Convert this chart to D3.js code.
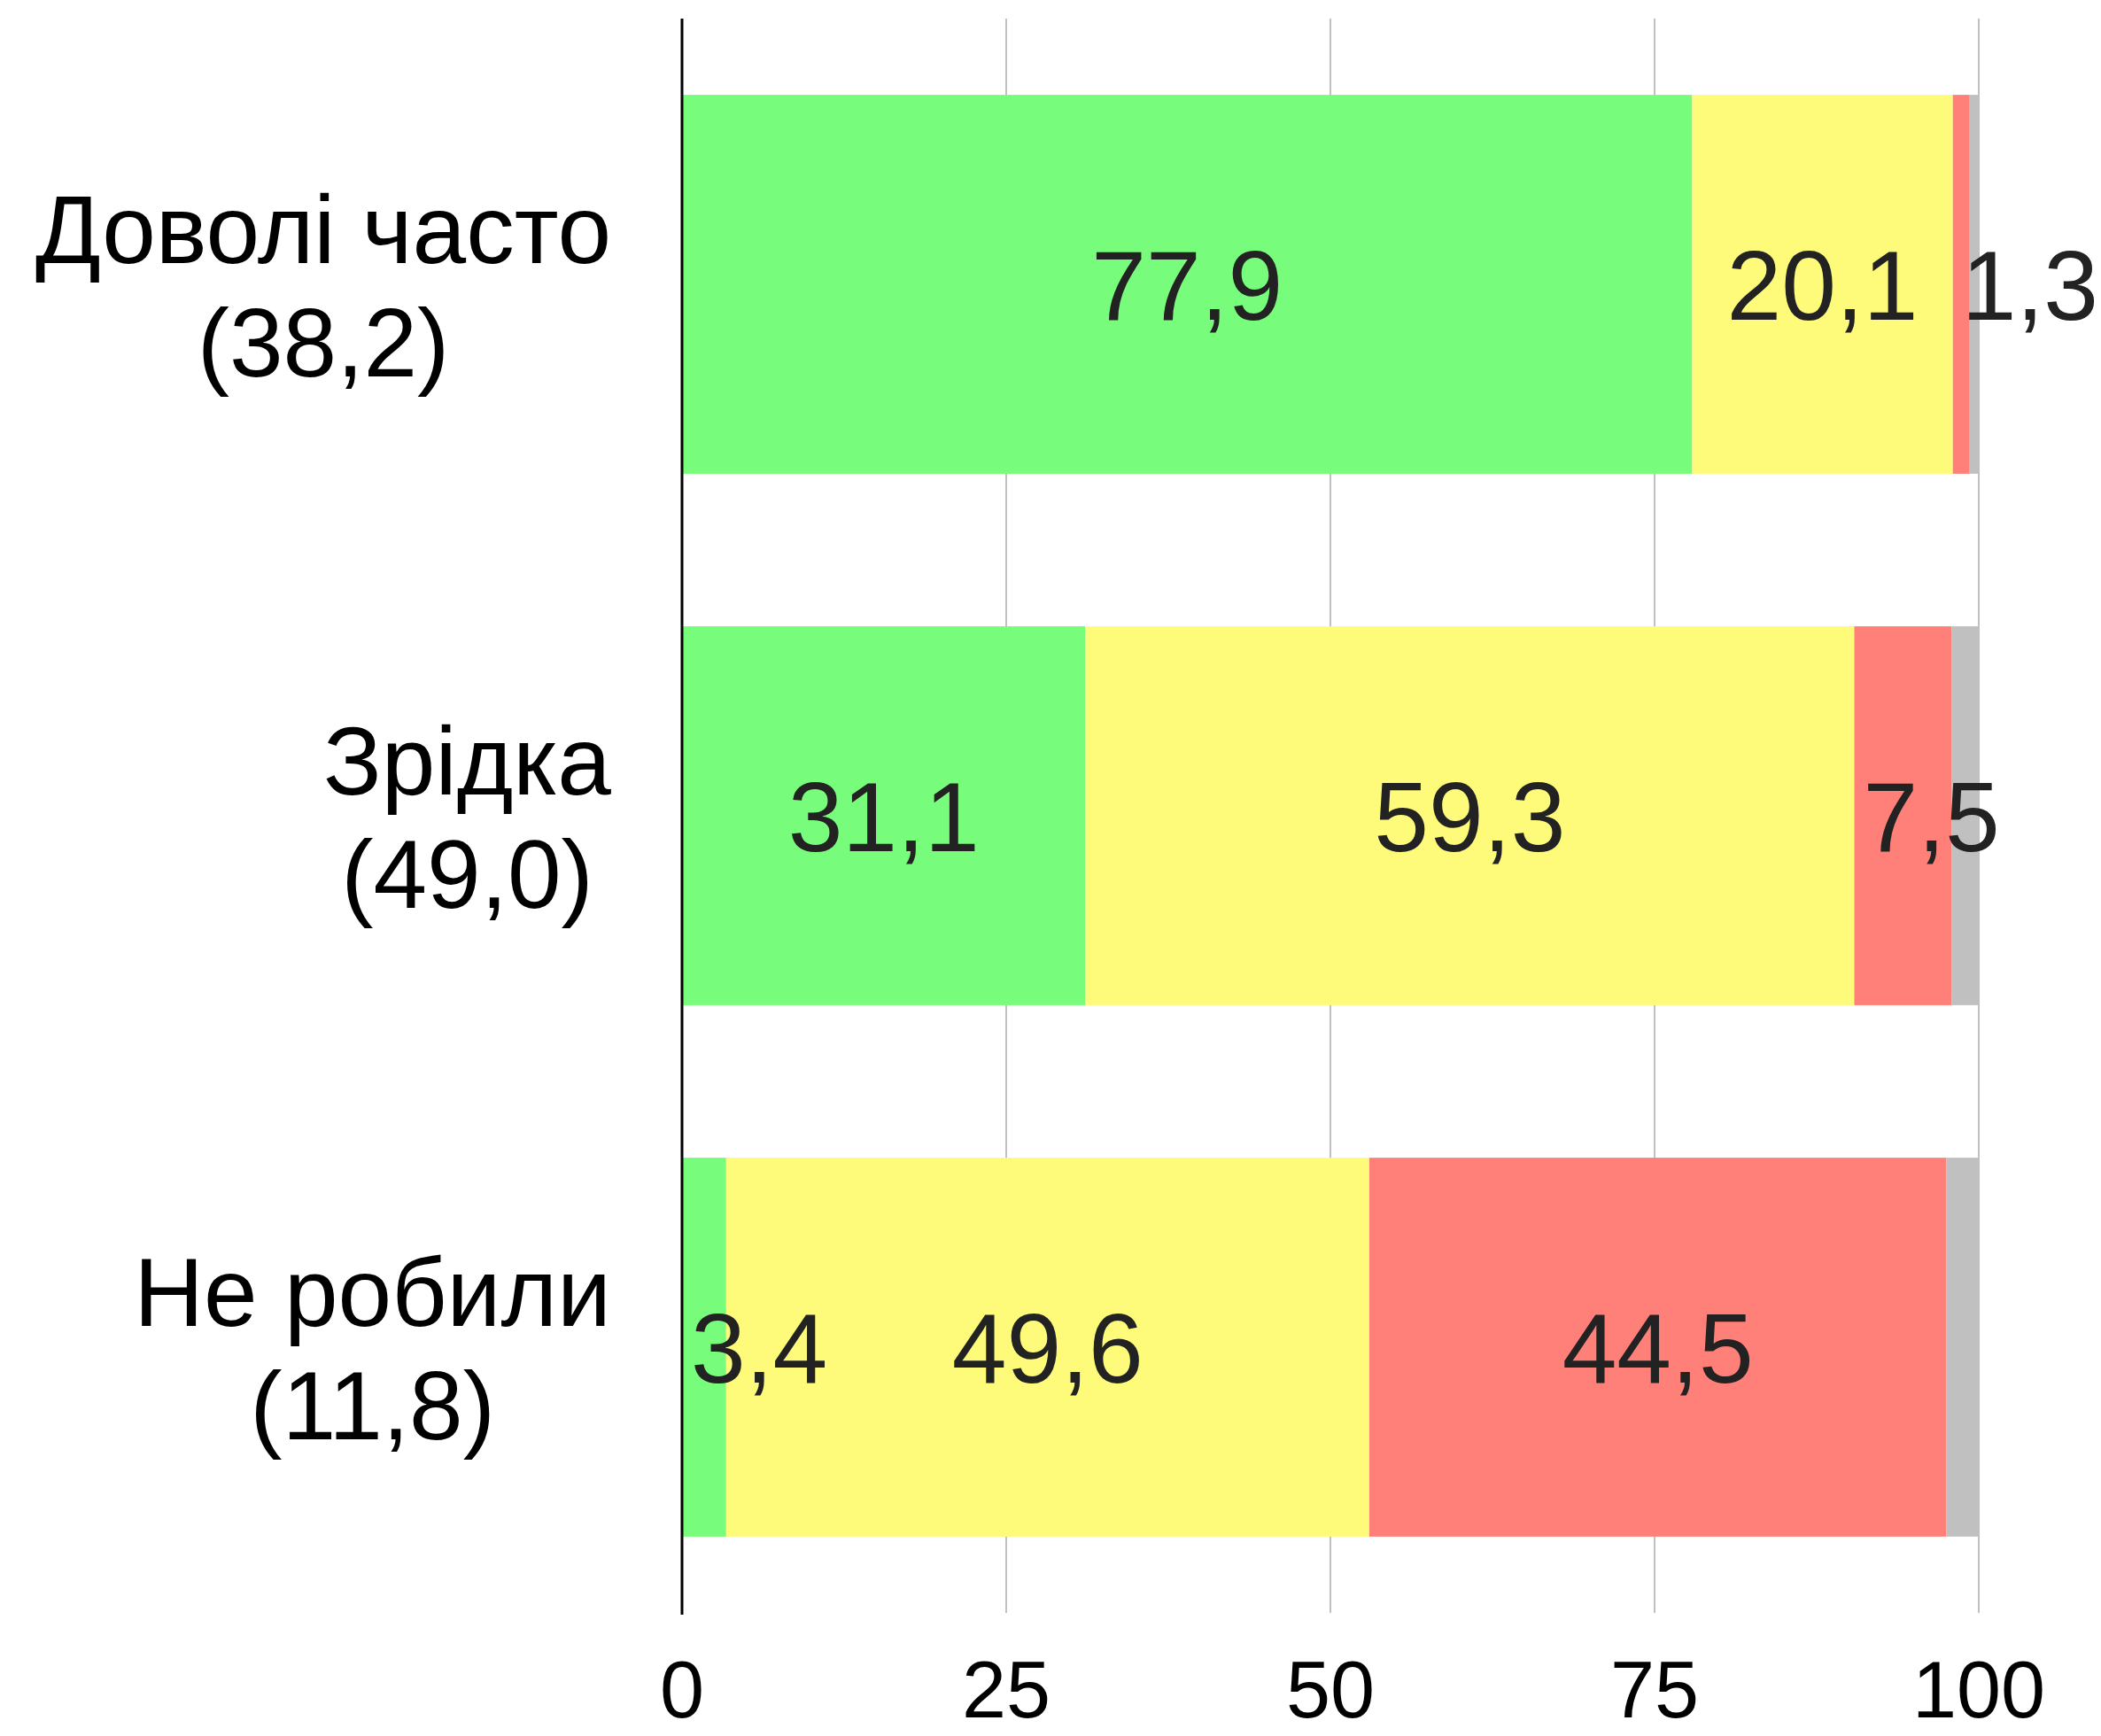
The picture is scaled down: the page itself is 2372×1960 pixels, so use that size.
<html>
<head>
<meta charset="utf-8">
<title>stacked bars</title>
<script src="https://cdnjs.cloudflare.com/ajax/libs/d3/7.8.5/d3.min.js"></script>
<style>
  body { margin:0; padding:0; background:#fff; }
  svg text { font-family: "Liberation Sans", Arial, Helvetica, sans-serif; }
</style>
</head>
<body>
<svg id="chart" width="2372" height="1960"></svg>
<script>
  // data
  var categories = ["Доволі часто", "Зрідка", "Не робили"];
  var shares = ["(38,2)", "(49,0)", "(11,8)"];
  var seriesNames = ["often", "rarely", "never", "na"];
  var often  = [77.9, 31.1, 3.4];
  var rarely = [20.1, 59.3, 49.6];
  var never  = [1.3, 7.5, 44.5];
  var na     = [0.7, 2.1, 2.5];
  var colors = ["#78fc7b", "#fefb7a", "#ff7f79", "#c0c0c0"];
  var ticks = [0, 25, 50, 75, 100];

  var rows = categories.map(function(c, i) {
    return {cat: c, share: shares[i], often: often[i], rarely: rarely[i], never: never[i], na: na[i]};
  });

  var svg = d3.select('#chart');
  var x0 = 770, x1 = 2234, yTop = 21, yBot = 1821;

  var x = d3.scaleLinear().domain([0, 100]).range([x0, x1]);
  var y = d3.scaleBand().domain(categories).range([yTop, yBot])
    .paddingInner(0.287).paddingOuter(0.1435);

  // grid
  svg.append('g').selectAll('line.grid')
    .data(ticks.slice(1))
    .enter().append('line')
    .attr('class', 'grid')
    .attr('x1', function(d) { return x(d); })
    .attr('x2', function(d) { return x(d); })
    .attr('y1', yTop).attr('y2', yBot)
    .attr('stroke', '#c0c0c0').attr('stroke-width', 2);

  var stack = d3.stack().keys(seriesNames);
  var layers = stack(rows);

  var g = svg.append('g');
  layers.forEach(function(layer, li) {
    g.selectAll('rect.s' + li)
      .data(layer)
      .enter().append('rect')
      .attr('class', 's' + li)
      .attr('x', function(d) { return x(d[0]); })
      .attr('width', function(d) { return x(d[1]) - x(d[0]); })
      .attr('y', function(d) { return y(d.data.cat); })
      .attr('height', y.bandwidth())
      .attr('fill', colors[li]);
  });

  // value labels (not for the grey remainder)
  var fmt = function(v) { return d3.format('.1f')(v).replace('.', ','); };
  layers.slice(0, 3).forEach(function(layer, li) {
    layer.forEach(function(d) {
      var w = x(d[1]) - x(d[0]);
      var t = svg.append('text')
        .attr('y', y(d.data.cat) + y.bandwidth() / 2)
        .attr('dy', '0.36em')
        .attr('font-size', 111)
        .attr('fill', '#222')
        .text(fmt(d[1] - d[0]));
      var tw = t.node().getComputedTextLength();
      if (tw > w) {
        t.attr('x', x(d[0]) + 10).attr('text-anchor', 'start');
      } else {
        t.attr('x', (x(d[0]) + x(d[1])) / 2).attr('text-anchor', 'middle');
      }
    });
  });

  // axis line at zero
  svg.append('line')
    .attr('x1', x(0)).attr('x2', x(0))
    .attr('y1', yTop).attr('y2', yBot + 2)
    .attr('stroke', '#000').attr('stroke-width', 3);

  // tick labels
  svg.append('g').selectAll('text.tick')
    .data(ticks)
    .enter().append('text')
    .attr('class', 'tick')
    .attr('x', function(d) { return x(d); })
    .attr('y', 1939)
    .attr('text-anchor', 'middle')
    .attr('font-size', 90)
    .attr('fill', '#000')
    .text(function(d) { return d; });

  // category labels: block right aligned, lines centered within
  var labelRight = 690;
  rows.forEach(function(r) {
    var cy = y(r.cat) + y.bandwidth() / 2;
    var lg = svg.append('g');
    var a = lg.append('text').attr('font-size', 109).attr('text-anchor', 'middle')
      .attr('y', cy - 24).text(r.cat);
    var b = lg.append('text').attr('font-size', 109).attr('text-anchor', 'middle')
      .attr('y', cy + 104).text(r.share);
    var mw = Math.max(a.node().getComputedTextLength(), b.node().getComputedTextLength());
    a.attr('x', labelRight - mw / 2);
    b.attr('x', labelRight - mw / 2);
  });
</script>
</body>
</html>
